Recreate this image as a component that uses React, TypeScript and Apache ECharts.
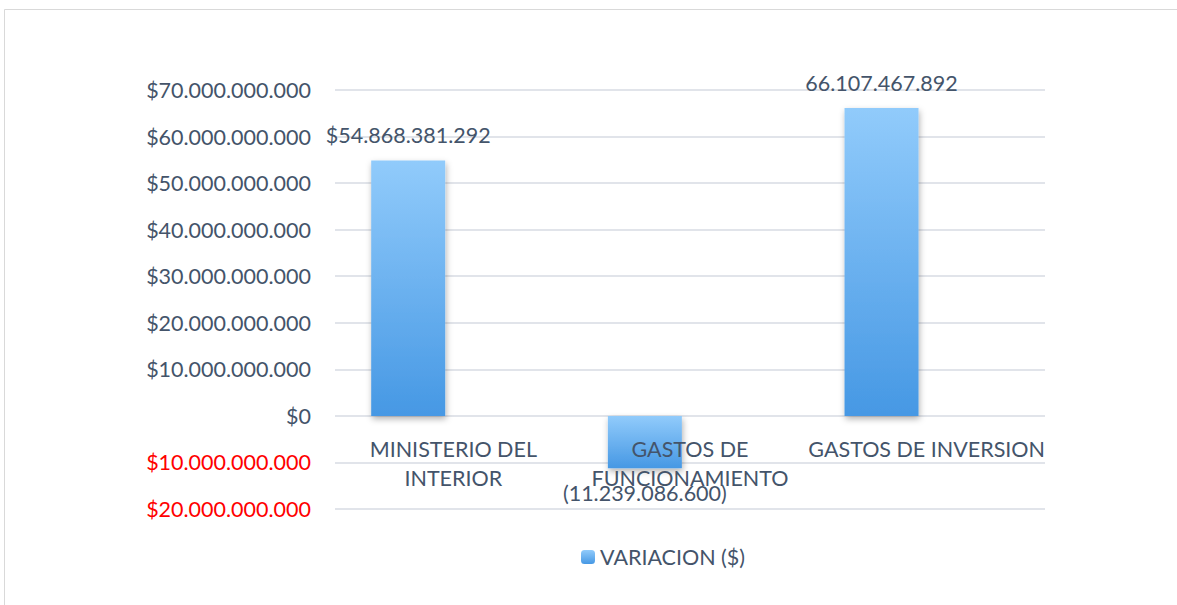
import React, { useEffect, useRef } from "react";
import * as echarts from "echarts";

const categories = ["MINISTERIO DEL\nINTERIOR", "GASTOS DE\nFUNCIONAMIENTO", "GASTOS DE INVERSION"];
const variacion = [54868381292, -11239086600, 66107467892];
const emptySeries = [0, 0, 0];
const valueLabels = ["$54.868.381.292", "(11.239.086.600)", "66.107.467.892"];
const seriesName = "VARIACION ($)";

const FONT = "Lato";
const TEXT = "#44546a";
const FS = 21.5;

function fmt(v: number): string {
  const s = Math.round(Math.abs(v)).toString();
  return s.replace(/\B(?=(\d{3})+(?!\d))/g, ".");
}

export default function App() {
  const ref = useRef<HTMLDivElement>(null);
  useEffect(() => {
    const chart = echarts.init(ref.current!, null, { renderer: "svg" });
    chart.setOption({
      animation: false,
      textStyle: { fontFamily: FONT },
      graphic: [
        {
          type: "rect",
          shape: { x: 4.5, y: 9.5, width: 1250, height: 700 },
          style: { fill: "none", stroke: "#d9d9d9", lineWidth: 1 },
          silent: true,
        },
      ],
      grid: { left: 335, right: 132, top: 90, bottom: 96, containLabel: false },
      legend: {
        data: [seriesName],
        top: 541,
        left: 576,
        itemWidth: 14,
        itemHeight: 14,
        itemGap: 4,
        textStyle: { color: TEXT, fontSize: FS, fontFamily: FONT },
      },
      xAxis: {
        type: "category",
        data: categories,
        z: 10,
        axisLine: { show: false },
        axisTick: { show: false },
        axisLabel: {
          interval: 0,
          color: TEXT,
          fontSize: FS,
          fontFamily: FONT,
          margin: -75,
          verticalAlign: "top",
          lineHeight: 29,
        },
      },
      yAxis: {
        type: "value",
        min: -20000000000,
        max: 70000000000,
        interval: 10000000000,
        axisLine: { show: false },
        axisTick: { show: false },
        splitLine: { lineStyle: { color: "#e1e4ea", width: 2 } },
        axisLabel: {
          margin: 24,
          fontSize: FS,
          fontFamily: FONT,
          color: (v: any) => (Number(v) < 0 ? "#ff0000" : TEXT),
          formatter: (v: number) => "$" + fmt(v),
        },
      },
      series: [
        {
          name: seriesName,
          type: "bar",
          data: variacion.map((v, i) => ({
            value: v,
            label: {
              show: true,
              position: v < 0 ? "bottom" : "top",
              distance: 14,
              formatter: () => valueLabels[i],
              color: TEXT,
              fontSize: FS,
              fontFamily: FONT,
            },
          })),
          barWidth: 74,
          barGap: "22%",
          itemStyle: {
            color: new echarts.graphic.LinearGradient(0, 0, 0, 1, [
              { offset: 0, color: "#91cbfb" },
              { offset: 1, color: "#4698e4" },
            ]),
            shadowBlur: 6,
            shadowColor: "rgba(0,0,0,0.3)",
            shadowOffsetX: 1,
            shadowOffsetY: 3,
          },
        },
        {
          name: "empty",
          type: "bar",
          data: emptySeries,
          barWidth: 74,
          itemStyle: {
            color: "#eeeeee",
            borderColor: "#eeeeee",
            borderWidth: 2,
            shadowBlur: 4,
            shadowColor: "rgba(0,0,0,0.12)",
            shadowOffsetY: 2,
          },
        },
      ],
    });
    return () => chart.dispose();
  }, []);
  return (
    <div
      ref={ref}
      style={{ position: "fixed", left: 0, top: 0, width: 1177, height: 605, background: "#fff" }}
    />
  );
}
